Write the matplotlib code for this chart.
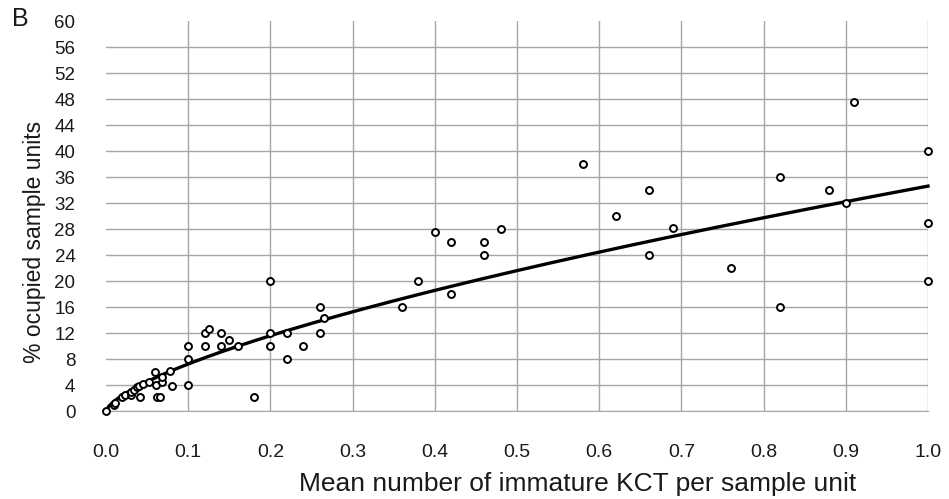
import matplotlib
matplotlib.use("Agg")
import matplotlib.pyplot as plt
import numpy as np

plt.rcParams['font.family'] = ['Liberation Sans', 'DejaVu Sans']

# Observed data: mean number of immature KCT per sample unit vs % occupied sample units
mean_kct = [0.0, 0.01, 0.011, 0.02, 0.023, 0.03, 0.03, 0.034, 0.038, 0.04, 0.041, 0.045,
            0.052, 0.06, 0.061, 0.062, 0.066, 0.068, 0.068, 0.078, 0.08,
            0.1, 0.1, 0.1, 0.12, 0.125, 0.12, 0.14, 0.14, 0.15, 0.16, 0.18,
            0.2, 0.2, 0.2, 0.22, 0.22, 0.24, 0.26, 0.26, 0.265,
            0.36, 0.38, 0.40, 0.42, 0.42, 0.46, 0.46, 0.48,
            0.58, 0.62, 0.66, 0.66, 0.69, 0.76, 0.82, 0.82, 0.88, 0.90, 0.91,
            1.0, 1.0, 1.0]
pct_occupied = [0.0, 1.0, 1.3, 2.1, 2.4, 2.4, 2.9, 3.3, 3.7, 3.9, 2.1, 4.2,
                4.5, 6.0, 4.0, 2.1, 2.2, 4.5, 5.2, 6.1, 3.9,
                10.0, 8.0, 4.0, 12.0, 12.6, 10.0, 12.0, 10.0, 11.0, 10.0, 2.1,
                20.0, 12.0, 10.0, 12.0, 8.0, 10.0, 16.0, 12.0, 14.3,
                16.0, 20.0, 27.6, 26.0, 18.0, 26.0, 24.0, 28.0,
                38.0, 30.0, 34.0, 24.0, 28.2, 22.0, 36.0, 16.0, 34.0, 32.0, 47.6,
                40.0, 29.0, 20.0]

# Power trend line y = a * x^b
trend_a = 34.6
trend_b = 0.68

x_ticks = [0.0, 0.1, 0.2, 0.3, 0.4, 0.5, 0.6, 0.7, 0.8, 0.9, 1.0]
y_ticks = list(range(0, 61, 4))

fig = plt.figure(figsize=(9.49, 4.99), dpi=100)
ax = fig.add_axes([106/949, 1-411/499, (928-106)/949, (411-21)/499])

ax.set_xlim(0, 1.0)
ax.set_ylim(0, 60)
ax.set_xticks(x_ticks)
ax.set_xticklabels([f"{t:.1f}" for t in x_ticks])
ax.set_yticks(y_ticks)
ax.grid(True, color='#a6a6a6', linewidth=1.0)
ax.set_axisbelow(True)
ax.get_xgridlines()[0].set_visible(False)
ax.get_ygridlines()[-1].set_visible(False)
for s in ['top', 'left', 'right']:
    ax.spines[s].set_visible(False)
ax.spines['bottom'].set_color('#a6a6a6')
ax.tick_params(axis='y', length=0, labelsize=13.5, colors='#1a1a1a', pad=22)
ax.tick_params(axis='x', length=0, labelsize=14, colors='#1a1a1a', pad=24)

xs = np.linspace(0, 1.0, 300)
ax.plot(xs, trend_a * xs ** trend_b, color='black', linewidth=2.4, zorder=3, clip_on=False)
ax.plot(mean_kct, pct_occupied, linestyle='none', marker='o', markersize=5,
        markerfacecolor='white', markeredgecolor='black', markeredgewidth=1.4,
        zorder=4, clip_on=False)

fig.text(12/949, 1-19/499, 'B', fontsize=18, va='center', ha='left', color='#1a1a1a')
fig.text(35/949, 1-242/499, '% ocupied sample units', rotation=90, fontsize=16.5,
         va='center', ha='center', color='#1a1a1a')
fig.text(578/949, 1-484/499, 'Mean number of immature KCT per sample unit', fontsize=19,
         va='center', ha='center', color='#1a1a1a')

fig.savefig('out.png', dpi=100)
